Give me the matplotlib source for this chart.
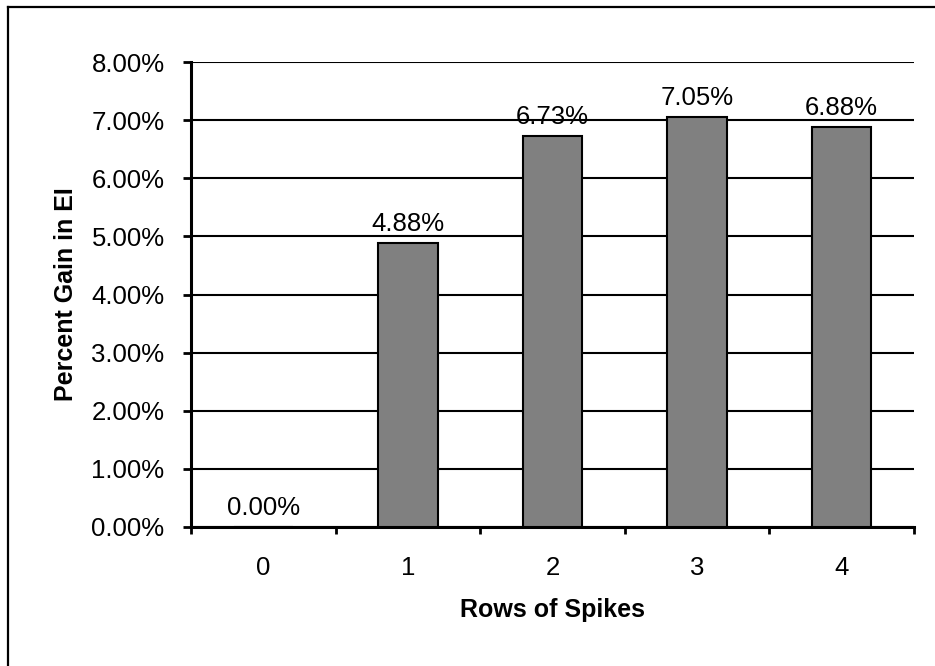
import matplotlib
matplotlib.use("Agg")
import matplotlib.pyplot as plt
from matplotlib.lines import Line2D
from matplotlib.ticker import FixedLocator, FuncFormatter

plt.rcParams['font.family'] = ['Liberation Sans', 'DejaVu Sans']

categories = ["0", "1", "2", "3", "4"]
gains = [0.0000, 0.0488, 0.0673, 0.0705, 0.0688]
value_labels = ["0.00%", "4.88%", "6.73%", "7.05%", "6.88%"]
y_ticks = [0.00, 0.01, 0.02, 0.03, 0.04, 0.05, 0.06, 0.07, 0.08]

W, H = 935, 666
fig = plt.figure(figsize=(W / 100, H / 100), dpi=100)
fig.patch.set_facecolor("white")

FS = 18.5

left, right, bottom, top = 191, 914, 527, 62
ax = fig.add_axes([left / W, 1 - bottom / H, (right - left) / W, (bottom - top) / H])

x = list(range(len(categories)))
ax.bar(x, gains, width=0.41, color="#808080", edgecolor="black", linewidth=1.5, zorder=3)

for xi, v, lab in zip(x, gains, value_labels):
    ax.annotate(lab, (xi, v), xytext=(0, 5), textcoords="offset points",
                ha="center", va="bottom", fontsize=FS, color="black", zorder=4)

ax.set_xlim(-0.5, len(categories) - 0.5)
ax.set_ylim(0, 0.08)

# horizontal gridlines
ax.yaxis.set_major_locator(FixedLocator(y_ticks))
ax.yaxis.set_major_formatter(FuncFormatter(lambda v, p: f"{v * 100:.2f}%"))
ax.grid(axis="y", color="black", linewidth=1.5, zorder=1)
ax.set_axisbelow(True)

# category labels at centers, tick marks at boundaries
ax.set_xticks(x)
ax.set_xticklabels(categories)
ax.xaxis.set_minor_locator(FixedLocator([i - 0.5 for i in range(len(categories) + 1)]))
ax.tick_params(axis="x", which="major", length=0, pad=21, labelsize=FS)
ax.tick_params(axis="x", which="minor", length=5, width=2, direction="out")
ax.tick_params(axis="y", which="major", length=6, width=2, direction="out", pad=13, labelsize=FS)

for s in ["top", "right"]:
    ax.spines[s].set_visible(False)
for s in ["left", "bottom"]:
    ax.spines[s].set_linewidth(2.2)

ax.set_xlabel("Rows of Spikes", fontsize=18, fontweight="bold", labelpad=13)
ax.set_ylabel("Percent Gain in EI", fontsize=18, fontweight="bold", labelpad=10)

# chart area border (top and left edges)
fig.add_artist(Line2D([8 / W, 1.0], [1 - 7 / H, 1 - 7 / H], color="black", linewidth=1.6,
                      transform=fig.transFigure))
fig.add_artist(Line2D([8 / W, 8 / W], [0.0, 1 - 7 / H], color="black", linewidth=1.6,
                      transform=fig.transFigure))

fig.savefig("out.png", dpi=100, facecolor="white")
